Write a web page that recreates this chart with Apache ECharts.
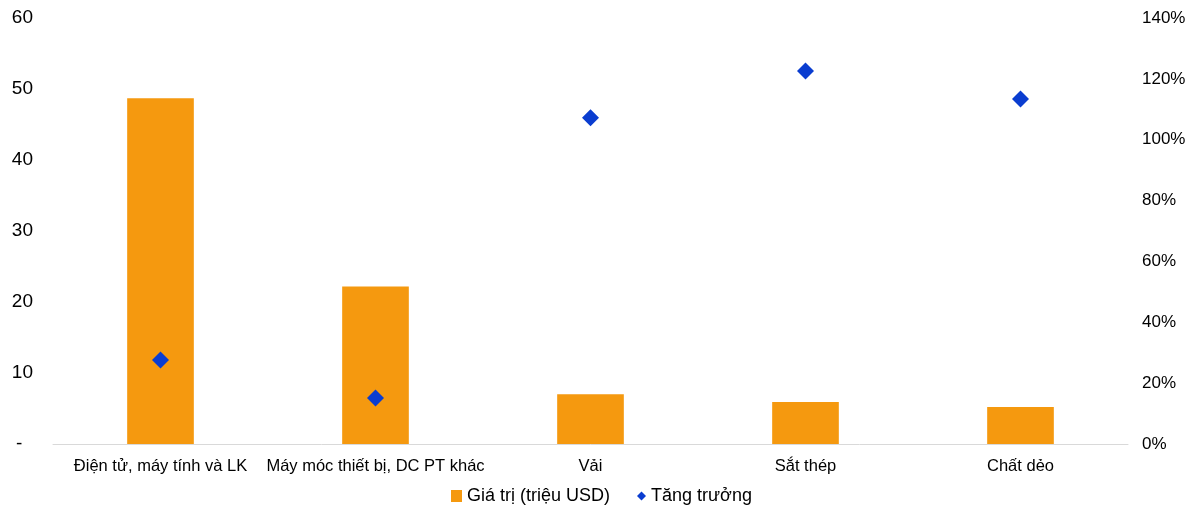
<!DOCTYPE html>
<html>
<head>
<meta charset="utf-8">
<script src="https://cdn.jsdelivr.net/npm/echarts@6/dist/echarts.min.js"></script>
<style>
  html, body { margin: 0; padding: 0; background: #fff; }
  #chart { width: 1200px; height: 517px; }
</style>
</head>
<body>
<div id="chart"></div>
<script>
// dữ liệu
var categories = ['Điện tử, máy tính và LK', 'Máy móc thiết bị, DC PT khác', 'Vải', 'Sắt thép', 'Chất dẻo'];
var giaTri = [48.7, 22.2, 7.0, 5.9, 5.2];
var tangTruong = [27.6, 15.1, 107.2, 122.6, 113.4]; // %

var chart = echarts.init(document.getElementById('chart'));
var font = 'Arial, "Liberation Sans", sans-serif';
var cam = '#f5990f';
var xanh = '#0a3dd0';

var option = {
    animation: false,
    textStyle: { fontFamily: font },
    grid: { left: 53, right: 72, top: 18, bottom: 73 },
    legend: [
        {
            left: 446,
            top: 482,
            itemWidth: 11,
            itemHeight: 12,
            textStyle: { fontSize: 18, color: '#000', fontFamily: font },
            data: [{ name: 'Giá trị (triệu USD)', icon: 'rect' }]
        },
        {
            left: 632,
            top: 482,
            itemWidth: 9,
            itemHeight: 9,
            textStyle: { fontSize: 18, color: '#000', fontFamily: font },
            data: [{ name: 'Tăng trưởng', icon: 'diamond' }]
        }
    ],
    xAxis: {
        type: 'category',
        data: categories,
        axisLine: { lineStyle: { color: '#d9d9d9', width: 1 } },
        axisTick: { show: false },
        axisLabel: { color: '#000', fontSize: 16.5, margin: 14, interval: 0, fontFamily: font }
    },
    yAxis: [
        {
            type: 'value',
            min: 0,
            max: 60,
            interval: 10,
            splitLine: { show: false },
            axisLine: { show: false },
            axisTick: { show: false },
            axisLabel: {
                color: '#000', fontSize: 19, margin: 20, fontFamily: font,
                formatter: function (v) { return v === 0 ? '-  ' : v; }
            }
        },
        {
            type: 'value',
            min: 0,
            max: 140,
            interval: 20,
            splitLine: { show: false },
            axisLine: { show: false },
            axisTick: { show: false },
            axisLabel: {
                color: '#000', fontSize: 17, margin: 14, fontFamily: font,
                formatter: '{value}%'
            }
        }
    ],
    series: [
        {
            name: 'Giá trị (triệu USD)',
            type: 'bar',
            data: giaTri,
            barWidth: '31%',
            itemStyle: { color: cam }
        },
        {
            name: 'Tăng trưởng',
            type: 'scatter',
            yAxisIndex: 1,
            data: tangTruong,
            symbol: 'diamond',
            symbolSize: 17,
            itemStyle: { color: xanh, opacity: 1 }
        }
    ]
};
chart.setOption(option);
</script>
</body>
</html>
